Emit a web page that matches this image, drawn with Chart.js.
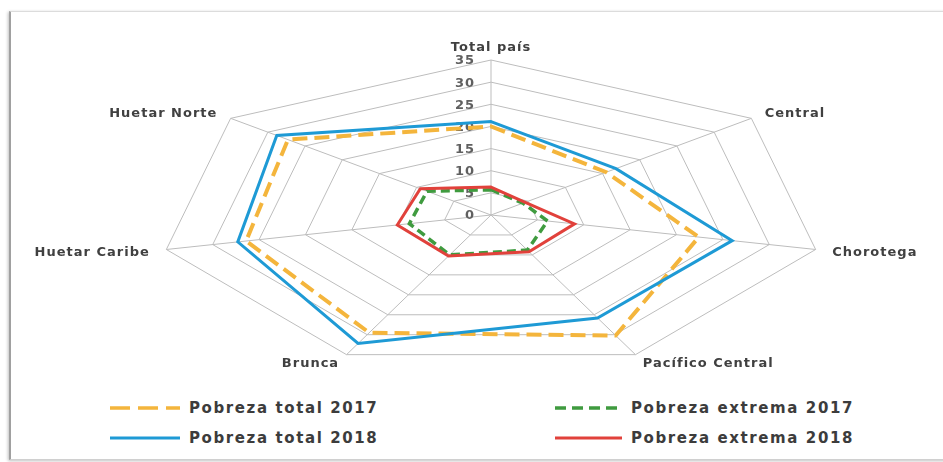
<!DOCTYPE html>
<html>
<head>
<meta charset="utf-8">
<script src="https://cdn.jsdelivr.net/npm/chart.js@4.4.1/dist/chart.umd.min.js"></script>
<style>
html,body{margin:0;padding:0;background:#fff;width:943px;height:462px;overflow:hidden;font-family:"DejaVu Sans",sans-serif;}
#frame{position:absolute;left:9px;top:11px;width:945px;height:447px;border-top:1px solid #dcdcdc;border-left:2px solid #a0a0a0;border-bottom:1px solid #d0d0d0;box-shadow:-1px 1px 3px rgba(0,0,0,0.25);}
#wrap{position:absolute;left:0;top:0;width:943px;height:390px;}
.item{position:absolute;display:flex;align-items:center;font:bold 15px "DejaVu Sans",sans-serif;letter-spacing:1.6px;color:#3c3c3c;white-space:nowrap;height:20px;}
.item svg{margin-right:9px;}
</style>
</head>
<body>
<div id="frame"></div>
<div id="wrap"><canvas id="c"></canvas></div>
<div id="legend"></div>
<script>
// ---- data ----
const categories = ['Total país', 'Central', 'Chorotega', 'Pacífico Central', 'Brunca', 'Huetar Caribe', 'Huetar Norte'];
const pobrezaTotal2017 = [20.0, 15.5, 22.4, 30.2, 29.5, 26.4, 27.3];
const pobrezaExtrema2017 = [5.7, 4.3, 6.1, 8.8, 10.0, 8.8, 8.6];
const pobrezaTotal2018 = [21.1, 16.8, 26.0, 25.8, 32.2, 27.3, 28.8];
const pobrezaExtrema2018 = [6.3, 4.6, 9.0, 9.2, 10.3, 10.1, 9.5];
const tickValues = [0, 5, 10, 15, 20, 25, 30, 35];
const seriesNames = ['Pobreza total 2017', 'Pobreza extrema 2017', 'Pobreza total 2018', 'Pobreza extrema 2018'];

// ---- layout (the reference radar is stretched horizontally) ----
const LAYOUT = { cx: 491, cy: 215, r: 155, sx: 333 / 155 };

const Base = Chart.RadialLinearScale || Chart.registry.getScale('radialLinear');
class StretchRadial extends Base {
  static id = 'stretchRadial';
  setCenterPoint() {
    this.xCenter = LAYOUT.cx;
    this.yCenter = LAYOUT.cy;
    this.drawingArea = LAYOUT.r;
  }
  getPointPosition(index, distanceFromCenter, additionalAngle = 0) {
    const angle = this.getIndexAngle(index) - Math.PI / 2 + additionalAngle;
    return {
      x: Math.cos(angle) * distanceFromCenter * LAYOUT.sx + this.xCenter,
      y: Math.sin(angle) * distanceFromCenter + this.yCenter,
      angle
    };
  }
  fit() {
    super.fit();
    const font = Chart.helpers.toFont(this.options.pointLabels.font);
    const ctx = this.ctx;
    ctx.save();
    ctx.font = font.string;
    this._pointLabelItems = this._pointLabels.map((label, i) => {
      const v = this.getPointPosition(i, this.drawingArea);
      const a = v.angle;
      const deg = Math.round((((a + Math.PI / 2) * 180 / Math.PI) % 360 + 360) % 360);
      const align = (deg === 0 || deg === 180) ? 'center' : (deg < 180 ? 'left' : 'right');
      const x = v.x + Math.cos(a) * 17;
      const yc = v.y + Math.sin(a) * 9 + (deg === 0 ? -4 : 0) + 1;
      const w = ctx.measureText(label).width;
      const left = align === 'center' ? x - w / 2 : (align === 'left' ? x : x - w);
      const top = yc - font.lineHeight / 2;
      return { visible: true, x, y: top, textAlign: align, left, top, right: left + w, bottom: top + font.lineHeight };
    });
    ctx.restore();
  }
  drawLabels() {
    const ctx = this.ctx;
    const font = Chart.helpers.toFont(this.options.ticks.font);
    ctx.save();
    ctx.font = font.string;
    ctx.fillStyle = this.options.ticks.color;
    ctx.textAlign = 'right';
    ctx.textBaseline = 'middle';
    this.ticks.forEach(t => {
      const d = this.getDistanceFromCenterForValue(t.value);
      ctx.fillText(t.label, this.xCenter - 16, this.yCenter - d + 1);
    });
    ctx.restore();
  }
}
Chart.register(StretchRadial);

const spacingPlugin = {
  id: 'spacing',
  beforeDraw(chart) { chart.ctx.letterSpacing = '1px'; }
};

const colors = ['#F4B53C', '#3F9B3F', '#1E9AD5', '#E1413B'];
const dashes = [[15, 7], [9, 5], [], []];
const widths = [4, 3.5, 3, 3];
const values = [pobrezaTotal2017, pobrezaExtrema2017, pobrezaTotal2018, pobrezaExtrema2018];
const orders = [3, 2, 1, 0];

const chart = new Chart(document.getElementById('c'), {
  type: 'radar',
  data: {
    labels: categories,
    datasets: values.map((v, i) => ({
      label: seriesNames[i],
      data: v,
      borderColor: colors[i],
      backgroundColor: 'transparent',
      borderWidth: widths[i],
      borderDash: dashes[i],
      pointRadius: 0,
      pointHoverRadius: 0,
      fill: false,
      tension: 0,
      order: orders[i]
    }))
  },
  options: {
    responsive: true,
    maintainAspectRatio: false,
    animation: false,
    plugins: { legend: { display: false }, tooltip: { enabled: false } },
    scales: {
      r: {
        type: 'stretchRadial',
        min: 0,
        max: 35,
        afterBuildTicks: s => { s.ticks = tickValues.map(v => ({ value: v })); },
        ticks: { stepSize: 5, color: '#606060', font: { family: 'DejaVu Sans', size: 13, weight: 'bold' } },
        grid: { color: '#bdbdbd', lineWidth: 1 },
        angleLines: { color: '#bdbdbd', lineWidth: 1 },
        pointLabels: { color: '#404040', font: { family: 'DejaVu Sans', size: 13, weight: 'bold' } }
      }
    }
  },
  plugins: [spacingPlugin]
});

// ---- HTML legend (2 x 2 grid) ----
const legendCols = [110, 555];
const legendLineLen = [70, 67];
const legendRows = [408, 438];
const legendDash = [[20, 8], [11, 6], [], []];
const legend = document.getElementById('legend');
chart.data.datasets.forEach((ds, i) => {
  const col = i % 2, row = Math.floor(i / 2);
  const el = document.createElement('div');
  el.className = 'item';
  el.style.left = legendCols[col] + 'px';
  el.style.top = (legendRows[row] - 10) + 'px';
  const len = legendLineLen[col];
  el.innerHTML = '<svg width="' + len + '" height="8"><line x1="0" y1="4" x2="' + len + '" y2="4" stroke="' + ds.borderColor +
    '" stroke-width="' + Math.min(ds.borderWidth, 3.5) + '" stroke-dasharray="' + (legendDash[i].length ? legendDash[i].join(',') : 'none') + '"/></svg>';
  const span = document.createElement('span');
  span.textContent = ds.label;
  el.appendChild(span);
  legend.appendChild(el);
});
</script>
</body>
</html>
